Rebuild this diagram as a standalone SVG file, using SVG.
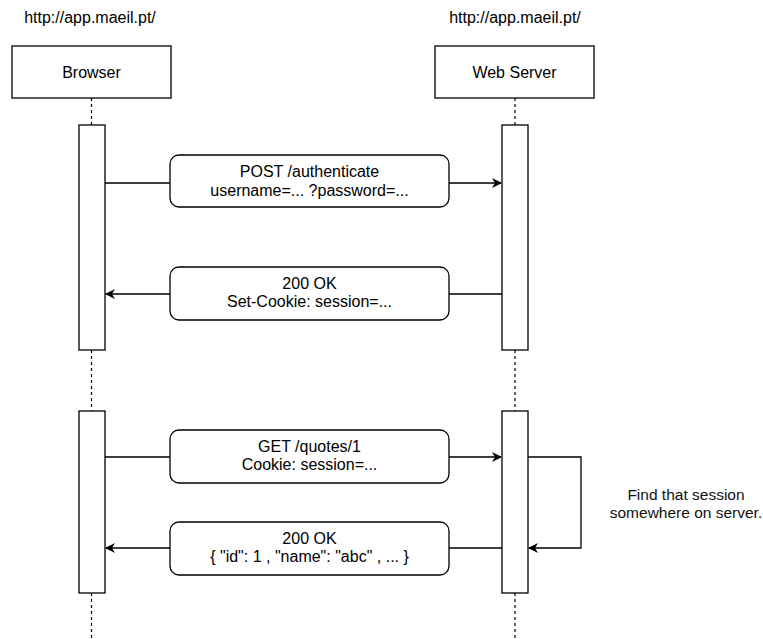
<svg xmlns="http://www.w3.org/2000/svg" width="763" height="639" viewBox="0 0 763 639">
<style>
text{font-family:"Liberation Sans",Arial,sans-serif;font-size:16px;fill:#000;text-anchor:middle}
.note{font-size:15.5px;fill:#111}
.box{fill:#fff;stroke:#000;stroke-width:1.3}
.life{stroke:#000;stroke-width:1.2;stroke-dasharray:3,3;fill:none}
.ln{stroke:#000;stroke-width:1.3;fill:none}
</style>
<defs>
<marker id="ah" viewBox="0 0 10 10" refX="9" refY="5" markerWidth="10" markerHeight="10" markerUnits="userSpaceOnUse" orient="auto">
<path d="M0,0 L10,5 L0,10 L3,5 Z" fill="#000"/>
</marker>
</defs>
<rect width="763" height="639" fill="#fff"/>
<g id="lifelines">
<line class="life" x1="91.5" y1="98" x2="91.5" y2="125"/>
<line class="life" x1="91.5" y1="350" x2="91.5" y2="411"/>
<line class="life" x1="91.5" y1="593" x2="91.5" y2="639"/>
<line class="life" x1="515" y1="98" x2="515" y2="125"/>
<line class="life" x1="515" y1="350" x2="515" y2="411"/>
<line class="life" x1="515" y1="593" x2="515" y2="639"/>
</g>
<g id="browser">
<text x="90" y="23">http://app.maeil.pt/</text>
<rect class="box" x="12" y="46" width="159" height="52"/>
<text x="91.5" y="78">Browser</text>
</g>
<g id="webserver">
<text x="515" y="23">http://app.maeil.pt/</text>
<rect class="box" x="435" y="46" width="159" height="52"/>
<text x="514.5" y="78">Web Server</text>
</g>
<g id="connectors">
<line class="ln" x1="105" y1="183" x2="170" y2="183"/>
<line class="ln" x1="449" y1="183" x2="501" y2="183" marker-end="url(#ah)"/>
<line class="ln" x1="502" y1="294" x2="449" y2="294"/>
<line class="ln" x1="170" y1="294" x2="106" y2="294" marker-end="url(#ah)"/>
<line class="ln" x1="105" y1="457" x2="170" y2="457"/>
<line class="ln" x1="449" y1="457" x2="501" y2="457" marker-end="url(#ah)"/>
<line class="ln" x1="502" y1="548" x2="449" y2="548"/>
<line class="ln" x1="170" y1="548" x2="106" y2="548" marker-end="url(#ah)"/>
<polyline class="ln" points="528,457 581,457 581,548 529,548" marker-end="url(#ah)"/>
</g>
<g id="act-browser-1"><rect class="box" x="79" y="125" width="26" height="225"/></g>
<g id="act-server-1"><rect class="box" x="502" y="125" width="26" height="225"/></g>
<g id="act-browser-2"><rect class="box" x="79" y="411" width="26" height="182"/></g>
<g id="act-server-2"><rect class="box" x="502" y="411" width="26" height="182"/></g>
<g id="msg-post">
<rect class="box" x="170" y="155" width="279" height="52" rx="9"/>
<text x="309.5" y="177">POST /authenticate</text>
<text x="309.5" y="195.5">username=... ?password=...</text>
</g>
<g id="msg-setcookie">
<rect class="box" x="170" y="267" width="279" height="53" rx="9"/>
<text x="309.5" y="288.5">200 OK</text>
<text x="309.5" y="307">Set-Cookie: session=...</text>
</g>
<g id="msg-get">
<rect class="box" x="170" y="430" width="279" height="53" rx="9"/>
<text x="309.5" y="451.5">GET /quotes/1</text>
<text x="309.5" y="470">Cookie: session=...</text>
</g>
<g id="msg-response">
<rect class="box" x="170" y="522" width="279" height="53" rx="9"/>
<text x="309.5" y="543.5">200 OK</text>
<text x="309.5" y="562">{ "id": 1 , "name": "abc" , ... }</text>
</g>
<g id="note-find">
<text class="note" x="686" y="500">Find that session</text>
<text class="note" x="686" y="518">somewhere on server.</text>
</g>
</svg>
